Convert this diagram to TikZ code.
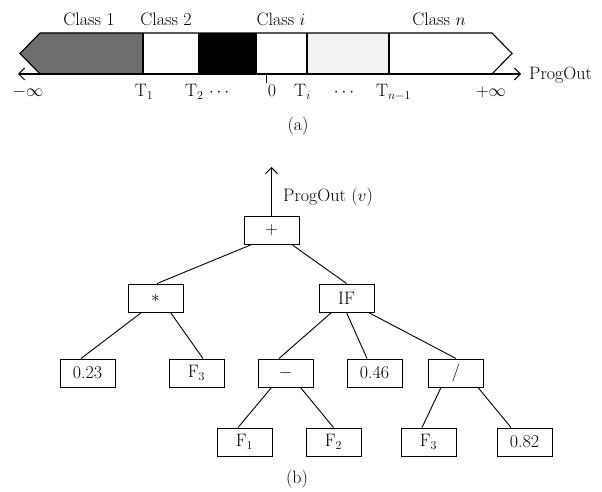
\documentclass[tikz,border=0pt]{standalone}
\usetikzlibrary{arrows.meta}
\definecolor{midgray}{HTML}{6E6E6E}
\definecolor{palegray}{HTML}{F2F2F2}
\begin{document}
\begin{tikzpicture}[x=1pt,y=-1pt,
  every node/.style={font=\fontsize{18}{21}\selectfont},
  opbox/.style={draw,line width=1pt,minimum width=55pt,minimum height=28pt,inner sep=0pt},
  edge/.style={line width=0.9pt},
  barline/.style={line width=1.1pt},
  tip/.style={-{Straight Barb[length=6pt,width=12pt,line width=1pt]}}]
\useasboundingbox (0,0) rectangle (602,492);
% ---------- (a) ----------
\fill[midgray] (40,33) -- (20,53.5) -- (40,74) -- (143,74) -- (143,33) -- cycle;
\fill[black] (199,33) rectangle (256,74);
\fill[palegray] (307,33) rectangle (389,74);
\draw[barline] (40,33) -- (492,33) -- (512,53.5) -- (492,74);
\draw[barline] (40,74) -- (20,53.5) -- (40,33);
\foreach \x in {143,199,256,307,389} \draw[barline] (\x,33) -- (\x,74);
\coordinate (axL) at (18,74);
\coordinate (axR) at (521,74);
\coordinate (zeroTop) at (266,74);
\coordinate (zeroBot) at (266,83);
\draw[barline,tip] (266,74) -- (axL);
\draw[barline,tip] (266,74) -- (axR);
\draw[line width=1pt] (zeroTop) -- (zeroBot);
\node[anchor=base west,inner sep=0pt] (progout) at (529,79.5) {ProgOut};
\node[anchor=base] (c1) at (89,26) {Class 1};
\node[anchor=base] (c2) at (166,26) {Class 2};
\node[anchor=base] (ci) at (281,26) {Class $i$};
\node[anchor=base] (cn) at (439,26) {Class $n$};
\node[anchor=base] (minf) at (28,97) {$-\infty$};
\node[anchor=base] (t1) at (144,97) {T$_1$};
\node[anchor=base west,inner sep=0pt] (t2) at (185,97) {T$_2$ $\cdots$};
\node[anchor=base] (zero) at (272,97) {0};
\node[anchor=base] (ti) at (302.5,97) {T$_i$};
\node[anchor=base] (dots) at (344,97) {$\cdots$};
\node[anchor=base] (tn) at (393.5,97) {T$_{n-1}$};
\node[anchor=base] (pinf) at (491,97) {$+\infty$};
\node (capa) at (298,126) {(a)};
% ---------- (b) ----------
\node[opbox] (plus) at (271.5,230.5) {$+$};
\node[opbox] (mul) at (155.5,298) {$*$};
\node[opbox] (if) at (346.5,298) {IF};
\node[opbox] (c023) at (87.5,373) {0.23};
\node[opbox] (f3a) at (196.5,373) {F$_3$};
\node[opbox] (minus) at (285.5,373) {$-$};
\node[opbox] (c046) at (374.5,373) {0.46};
\node[opbox] (div) at (456,373) {/};
\node[opbox] (f1) at (244.5,442) {F$_1$};
\node[opbox] (f2) at (333.5,442) {F$_2$};
\node[opbox] (f3b) at (428.5,442) {F$_3$};
\node[opbox] (c082) at (524.5,442) {0.82};
\coordinate (out) at (271.5,167);
\draw[edge,tip] (plus.north) -- (out);
\node[anchor=base west,inner sep=0pt] (outlab) at (283,201) {ProgOut ($v$)};
\draw[edge] ([xshift=7pt]plus.south west) -- ([xshift=1.5pt]mul.north);
\draw[edge] ([xshift=-7pt]plus.south east) -- (if.north);
\draw[edge] ([xshift=14pt]mul.south west) -- ([xshift=-6.5pt]c023.north);
\draw[edge] ([xshift=-13pt]mul.south east) -- ([xshift=6.5pt]f3a.north);
\draw[edge] ([xshift=13pt]if.south west) -- ([xshift=-6.5pt]minus.north);
\draw[edge] (if.south) -- ([xshift=-7.5pt]c046.north);
\draw[edge] ([xshift=-6pt]if.south east) -- (div.north);
\draw[edge] ([xshift=14pt]minus.south west) -- ([xshift=-6.5pt]f1.north);
\draw[edge] ([xshift=-13pt]minus.south east) -- (f2.north);
\draw[edge] ([xshift=13pt]div.south west) -- ([xshift=-6.5pt]f3b.north);
\draw[edge] ([xshift=-6pt]div.south east) -- ([xshift=-13.5pt]c082.north);
\node (capb) at (297,479) {(b)};
\end{tikzpicture}
\end{document}
